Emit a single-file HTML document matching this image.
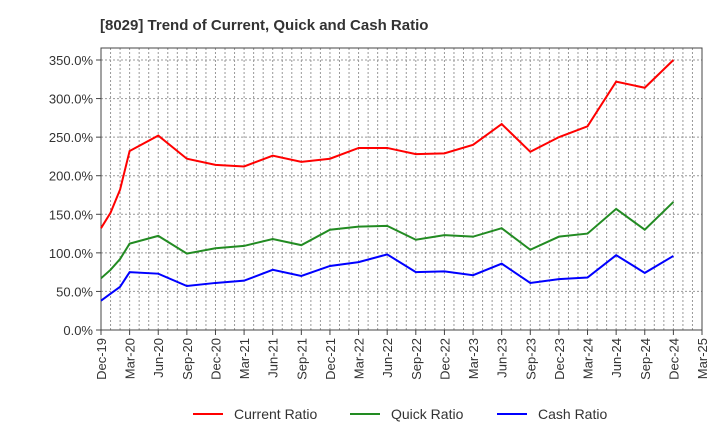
<!DOCTYPE html>
<html><head><meta charset="utf-8"><style>
body{margin:0;background:#fff;font-family:"Liberation Sans",sans-serif}
</style></head><body>
<svg id="c" width="720" height="440" xmlns="http://www.w3.org/2000/svg" font-family="Liberation Sans, sans-serif"></svg>
<script>
const months=[0,1,2,3,6,9,12,15,18,21,24,27,30,33,36,39,42,45,48,51,54,57,60];
const current=[132,152,182,232,252,222,214,212,226,218,222,236,236,228,229,240,267,231,250,264,322,314,350];
const quick=[67,78,92,112,122,99,106,109,118,110,130,134,135,117,123,121,132,104,121,125,157,130,166];
const cash=[38,47,56,75,73,57,61,64,78,70,83,88,98,75,76,71,86,61,66,68,97,74,96];
const yTicks=[0,50,100,150,200,250,300,350];
const xLabels=["Dec-19","Mar-20","Jun-20","Sep-20","Dec-20","Mar-21","Jun-21","Sep-21","Dec-21","Mar-22","Jun-22","Sep-22","Dec-22","Mar-23","Jun-23","Sep-23","Dec-23","Mar-24","Jun-24","Sep-24","Dec-24","Mar-25"];
const L=101,R=702,T=48,B=330;
const xs=m=>L+m*(R-L)/63, ys=v=>B-v*(270/350);
const s=document.getElementById('c');const NS="http://www.w3.org/2000/svg";
function el(t,a,p){const e=document.createElementNS(NS,t);for(const k in a)e.setAttribute(k,a[k]);(p||s).appendChild(e);return e;}
let t=el('text',{x:100,y:30,'font-size':15,'font-weight':'bold',fill:'#333'});t.textContent='[8029]  Trend of Current, Quick and Cash Ratio';

for(let m=1;m<63;m++){const g=el('line',{x1:xs(m),x2:xs(m),y1:T,y2:B,stroke:'#999','stroke-dasharray':'2,2','stroke-width':1});
}
yTicks.forEach(v=>{if(v>0){const g=el('line',{x1:L,x2:R,y1:ys(v),y2:ys(v),stroke:'#999','stroke-dasharray':'2,2'});
}
const tx=el('text',{x:93,y:ys(v)+5,'text-anchor':'end','font-size':13,fill:'#333'});tx.textContent=v.toFixed(1)+'%';

el('line',{x1:L-5,x2:L,y1:ys(v),y2:ys(v),stroke:'#444'});});
xLabels.forEach((lb,i)=>{const x=xs(i*3);el('line',{x1:x,x2:x,y1:B,y2:B+5,stroke:'#444'});
const tx=el('text',{x:0,y:0,'text-anchor':'end','font-size':13,fill:'#333',transform:`translate(${x+5},${B+8}) rotate(-90)`});tx.textContent=lb;
});
const f=el('rect',{x:L,y:T,width:R-L,height:B-T,fill:'none',stroke:'#444'});

[[current,'#ff0000','current-ratio-line'],[quick,'#228b22','quick-ratio-line'],[cash,'#0000ff','cash-ratio-line']].forEach(([d,c,n])=>{
const p=el('polyline',{points:d.map((v,i)=>xs(months[i])+','+ys(v)).join(' '),fill:'none',stroke:c,'stroke-width':2});
});
[['Current Ratio','#ff0000',193],['Quick Ratio','#228b22',350],['Cash Ratio','#0000ff',497]].forEach(([lb,c,x])=>{
const g=el('g',{});
el('line',{x1:x,x2:x+30,y1:414,y2:414,stroke:c,'stroke-width':2},g);
const tx=el('text',{x:x+41,y:419,'font-size':14,fill:'#333'},g);tx.textContent=lb;});
</script></body></html>
